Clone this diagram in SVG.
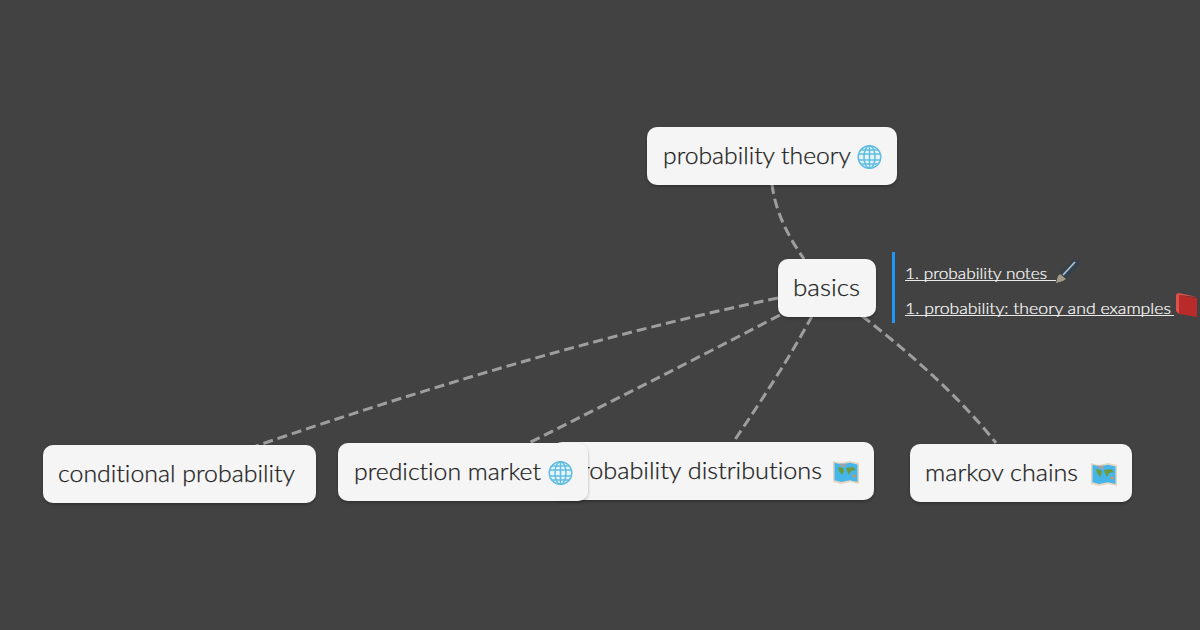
<svg xmlns="http://www.w3.org/2000/svg" width="1200" height="630" viewBox="0 0 1200 630">
<style>
.bg{fill:#424242}
.box{fill:#f5f5f5;filter:url(#sh)}
.t{font-family:"Lato","Open Sans",sans-serif;font-size:24px;font-weight:300;fill:#1c1c1c;stroke:#1c1c1c;stroke-width:.25px;font-variant-ligatures:none}
.l{font-family:"Lato","Open Sans",sans-serif;font-size:16.5px;font-weight:300;fill:#fff;stroke:#fff;stroke-width:.2px;font-variant-ligatures:none}
.u{stroke:#e8e8e8;stroke-width:1;fill:none}
.c{fill:none;stroke:#9e9e9e;stroke-width:3;stroke-dasharray:10 5}
</style>
<defs>
<filter id="sh" x="-10%" y="-20%" width="120%" height="140%"><feDropShadow dx="0" dy="1.500" stdDeviation="1.500" flood-color="#000" flood-opacity=".3"/></filter>
<g id="globe" fill="none" stroke="#62bde0" stroke-width="1.500">
<circle cx="12" cy="12" r="11.300" fill="#e4f4fa"/>
<ellipse cx="12" cy="12" rx="5.500" ry="11.300"/>
<path d="M12 1V23M1 9H23M1 15H23M3.500 5H20.500M3.500 19H20.500"/>
</g>
<g id="map">
<path d="M0 1L8 3L17 1L26 3V24L17 22L8 24L0 22Z" fill="#e6d6c0"/>
<path d="M1.500 2.800L8 4.500L17 2.800L24.500 4.500V22L17 20.300L8 22L1.500 20.300Z" fill="#45b5ea"/>
<path d="M5 7L10 8L11 11L9 15L6 11ZM13 8L20 7L23 10L18 11L16 15L14 11Z" fill="#6d9a3c"/>
<path d="M6 3.500L13 3.800V7L8 7Z" fill="#9aa4ad"/>
<circle cx="21" cy="16" r="1.400" fill="#e8913c"/>
</g>
</defs>
<rect class="bg" width="1200" height="630"/>
<g id="connectors">
<path class="c" d="M772 184C775 210 787 235 804 259"/>
<path class="c" d="M778 298C600 335 420 390 256 446"/>
<path class="c" d="M780 315C690 362 610 402 525 445"/>
<path class="c" d="M812 316C790 357 762 400 732 444"/>
<path class="c" d="M862 316C915 357 960 398 996 443"/>
</g>
<g id="node-distributions">
<rect class="box" x="552" y="442" width="322" height="58" rx="10"/>
<text class="t" x="567" y="479" textLength="255" lengthAdjust="spacingAndGlyphs">probability distributions</text>
<use href="#map" x="833" y="460"/>
</g>
<g id="node-theory">
<rect class="box" x="647" y="127" width="250" height="58" rx="10"/>
<text class="t" x="663" y="164" textLength="188" lengthAdjust="spacingAndGlyphs">probability theory</text>
<use href="#globe" x="857.500" y="145"/>
</g>
<g id="node-basics">
<rect class="box" x="778" y="259" width="98" height="58" rx="10"/>
<text class="t" x="793" y="296" textLength="67" lengthAdjust="spacingAndGlyphs">basics</text>
</g>
<g id="node-notes">
<rect x="892" y="252" width="3" height="71" fill="#2196f3"/>
<text class="l" x="905" y="279" textLength="142" lengthAdjust="spacingAndGlyphs">1. probability notes</text>
<path class="u" d="M905 280.500H1056"/>
<path d="M1060 274L1074 259L1080.500 263L1066 279Z" fill="#33404d"/>
<path d="M1056 283L1058 276L1060 274L1066 279L1063 281Z" fill="#a39a88"/>
<path d="M1063 275L1075 262" stroke="#aebfcc" stroke-width="1.800" fill="none"/>
<text class="l" x="905" y="314" textLength="266" lengthAdjust="spacingAndGlyphs">1. probability: theory and examples</text>
<path class="u" d="M905 315.500H1174"/>
<path d="M1179 295L1197 298V317L1179 314Z" fill="#b92a2a"/>
<path d="M1176 294L1179 295V314L1176 311Z" fill="#e0504a"/>
<path d="M1176 294L1179 293L1197 297L1179 295Z" fill="#e0504a"/>
</g>
<g id="node-conditional">
<rect class="box" x="43" y="445" width="273" height="58" rx="10"/>
<text class="t" x="58" y="482" textLength="237" lengthAdjust="spacingAndGlyphs">conditional probability</text>
</g>
<g id="node-market">
<rect class="box" x="338" y="443" width="250" height="58" rx="10"/>
<text class="t" x="354" y="480" textLength="187" lengthAdjust="spacingAndGlyphs">prediction market</text>
<use href="#globe" x="548.500" y="461"/>
</g>
<g id="node-markov">
<rect class="box" x="910" y="444" width="222" height="58" rx="10"/>
<text class="t" x="925" y="481" textLength="153" lengthAdjust="spacingAndGlyphs">markov chains</text>
<use href="#map" x="1091" y="462"/>
</g>
</svg>
